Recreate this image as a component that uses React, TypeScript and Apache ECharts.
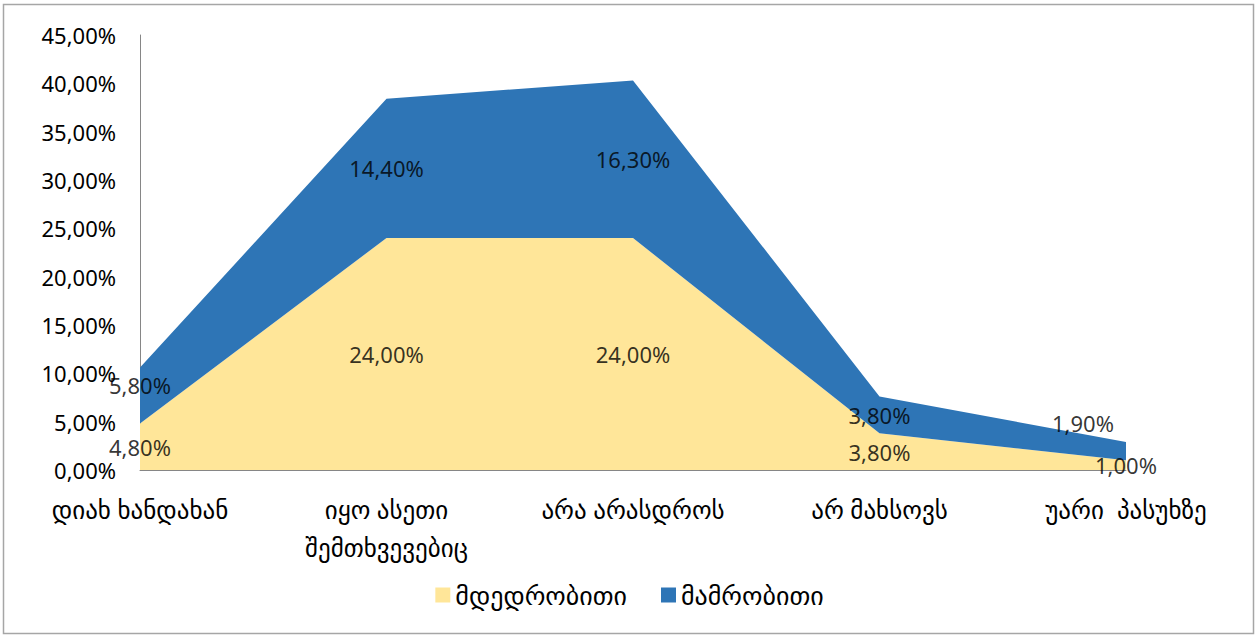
import React, { useEffect, useRef } from "react";
import * as echarts from "echarts";

const categories = [
  "დიახ ხანდახან",
  "იყო ასეთი\nშემთხვევებიც",
  "არა არასდროს",
  "არ მახსოვს",
  "უარი  პასუხზე",
];
const femaleName = "მდედრობითი";
const maleName = "მამრობითი";
const femaleValues = [4.8, 24.0, 24.0, 3.8, 1.0];
const maleValues = [5.8, 14.4, 16.3, 3.8, 1.9];
const yTicks = { min: 0, max: 45, interval: 5 };

const FONT = "'Noto Sans', 'DejaVu Sans', sans-serif";
const fmt = (v: number) => v.toFixed(2).replace(".", ",") + "%";

export default function App() {
  const ref = useRef<HTMLDivElement>(null);
  useEffect(() => {
    if (!ref.current) return;
    const chart = echarts.init(ref.current, undefined, { renderer: "svg" });
    const labelStyle = { color: "#000", fontSize: 22, fontFamily: FONT };
    const femaleLabels = femaleValues.map((v, i) => ({
      value: [i, v / 2, v],
    }));
    const maleOffsets: Record<number, number[]> = { 0: [0, -11], 4: [-43, -28] };
    const maleLabels = maleValues.map((v, i) => ({
      value: [i, femaleValues[i] + v / 2, v],
      label: maleOffsets[i] ? { offset: maleOffsets[i] } : undefined,
    }));
    chart.setOption({
      animation: false,
      textStyle: { fontFamily: FONT },
      graphic: [
        {
          type: "rect",
          shape: { x: 3.5, y: 4.5, width: 1250, height: 629 },
          style: { fill: "none", stroke: "#A6A6A6", lineWidth: 1.5 },
          silent: true,
        },
      ],
      grid: { left: 140, right: 133, top: 35, bottom: 167, containLabel: false },
      legend: {
        data: [
          { name: femaleName, icon: "rect" },
          { name: maleName, icon: "rect" },
        ],
        bottom: 24,
        left: "center",
        itemWidth: 15,
        itemHeight: 15,
        itemGap: 34,
        textStyle: { fontSize: 26, color: "#000", fontFamily: FONT },
      },
      xAxis: {
        type: "category",
        data: categories,
        boundaryGap: false,
        axisLine: { lineStyle: { color: "#868686", width: 1 } },
        axisTick: { show: false },
        axisLabel: {
          color: "#000",
          fontSize: 25,
          fontFamily: FONT,
          margin: 20,
          lineHeight: 38,
          interval: 0,
        },
      },
      yAxis: {
        type: "value",
        min: yTicks.min,
        max: yTicks.max,
        interval: yTicks.interval,
        splitLine: { show: false },
        axisLine: { show: true, lineStyle: { color: "#868686", width: 1 } },
        axisTick: { show: false },
        axisLabel: {
          color: "#000",
          fontSize: 22,
          fontFamily: FONT,
          margin: 24,
          formatter: (v: number) => fmt(v),
        },
      },
      series: [
        {
          name: femaleName,
          type: "line",
          stack: "total",
          data: femaleValues,
          symbol: "none",
          lineStyle: { width: 0 },
          areaStyle: { color: "#FFE699", opacity: 1 },
          itemStyle: { color: "#FFE699" },
          z: 2,
        },
        {
          name: maleName,
          type: "line",
          stack: "total",
          data: maleValues,
          symbol: "none",
          lineStyle: { width: 0 },
          areaStyle: { color: "#2E75B6", opacity: 1 },
          itemStyle: { color: "#2E75B6" },
          z: 2,
        },
        {
          name: "femaleLabels",
          type: "scatter",
          data: femaleLabels,
          symbolSize: 0,
          silent: true,
          z: 5,
          label: {
            show: true,
            position: "inside",
            ...labelStyle,
            formatter: (p: any) => fmt(p.value[2]),
          },
        },
        {
          name: "maleLabels",
          type: "scatter",
          data: maleLabels,
          symbolSize: 0,
          silent: true,
          z: 5,
          label: {
            show: true,
            position: "inside",
            ...labelStyle,
            formatter: (p: any) => fmt(p.value[2]),
          },
        },
      ],
    });
    return () => chart.dispose();
  }, []);
  return (
    <div
      ref={ref}
      style={{ position: "fixed", left: 0, top: 0, width: 1259, height: 637, background: "#fff" }}
    />
  );
}
